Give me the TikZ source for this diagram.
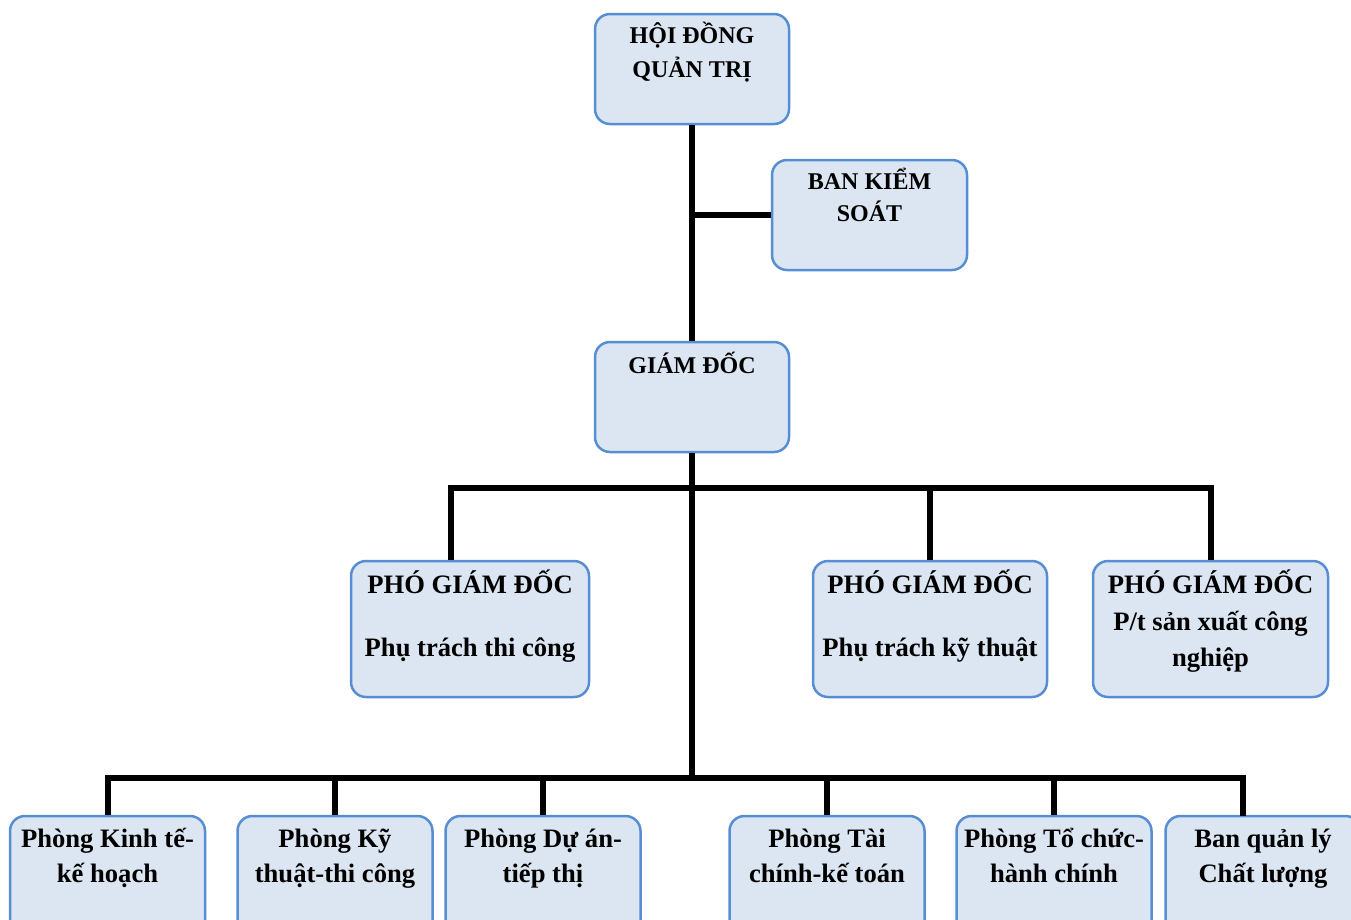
\documentclass[tikz,border=0pt]{standalone}
\usepackage{fontspec}
\setmainfont{Liberation Serif}
\usetikzlibrary{positioning}
\definecolor{boxfill}{RGB}{220,230,242}
\definecolor{boxline}{RGB}{86,141,211}
\newcommand{\toptxt}{\fontsize{24}{34}\selectfont\bfseries}
\newcommand{\midtxt}{\fontsize{26.6}{36.5}\selectfont\bfseries}
\newcommand{\lowtxt}{\fontsize{26.6}{35}\selectfont\bfseries}
% first line strut, so every box text starts at the same baseline
\newcommand{\tstrut}[1]{\rule{0pt}{#1}}
\tikzset{
  orgbox/.style={draw=boxline, fill=boxfill, line width=2.5pt, rounded corners=15pt, inner sep=0pt},
  boxtxt/.style={align=center, inner sep=0pt, anchor=north},
  conn/.style={line width=6pt, line join=miter}
}

\begin{document}
\begin{tikzpicture}[x=1pt, y=-1pt]
    \useasboundingbox (0,0) rectangle (1351,919);

    % Board and control
    \node[orgbox, minimum width=194, minimum height=110] (hdqt) at (692, 69) {};
    \node[boxtxt, font=\toptxt, below=4.6pt of hdqt.north] (hdqt-t) {\tstrut{26.4pt}HỘI ĐỒNG\\QUẢN TRỊ};
    \node[orgbox, minimum width=195, minimum height=110] (bks) at (869.5, 215) {};
    \node[boxtxt, font=\fontsize{24}{32}\selectfont\bfseries, below=4.6pt of bks.north] (bks-t) {\tstrut{26.4pt}BAN KIỂM\\SOÁT};

    % Director
    \node[orgbox, minimum width=194, minimum height=110] (gd) at (692, 397) {};
    \node[boxtxt, font=\toptxt, below=6.6pt of gd.north] (gd-t) {\tstrut{26.4pt}GIÁM ĐỐC};

    % Deputies
    \node[orgbox, minimum width=238, minimum height=136] (pgd1) at (470, 629) {};
    \node[boxtxt, font=\midtxt, below=5.4pt of pgd1.north] (pgd1-t) {\tstrut{28.6pt}PHÓ GIÁM ĐỐC\\[26pt]Phụ trách thi công};
    \node[orgbox, minimum width=234, minimum height=136] (pgd2) at (930, 629) {};
    \node[boxtxt, font=\midtxt, below=5.4pt of pgd2.north] (pgd2-t) {\tstrut{28.6pt}PHÓ GIÁM ĐỐC\\[26pt]Phụ trách kỹ thuật};
    \node[orgbox, minimum width=235, minimum height=136] (pgd3) at (1210.5, 629) {};
    \node[boxtxt, font=\midtxt, below=5.4pt of pgd3.north] (pgd3-t) {\tstrut{28.6pt}PHÓ GIÁM ĐỐC\\P/t sản xuất công\\nghiệp};

    % Departments
    \foreach \x/\nm/\txt in {107.5/p1/{Phòng Kinh tế-\\kế hoạch}, 335/p2/{Phòng Kỹ\\thuật-thi công},
        543/p3/{Phòng Dự án-\\tiếp thị}, 827/p4/{Phòng Tài\\chính-kế toán},
        1054/p5/{Phòng Tổ chức-\\hành chính}, 1263/p6/{Ban quản lý\\Chất lượng}} {
        \node[orgbox, minimum width=195, minimum height=130] (\nm) at (\x, 881) {};
        \node[boxtxt, font=\lowtxt, below=4.4pt of \nm.north] (\nm-t) {\tstrut{28.6pt}\txt};
    }

    % Connections
    \coordinate (bus1) at (451, 488);
    \coordinate (bus2) at (691, 778);
    \coordinate (p6top) at (1243, 816);
    \draw[conn] (hdqt.south) -- (gd.north);
    \draw[conn] (hdqt.south |- bks.west) -- (bks.west);
    \draw[conn] (gd.south) -- (gd.south |- bus2);
    \draw[conn] (pgd1.north -| bus1) -- (bus1) -- (pgd3.north |- bus1) -- (pgd3.north);
    \draw[conn] (pgd2.north) -- (pgd2.north |- bus1);
    \draw[conn] (p1.north) -- (p1.north |- bus2) -- (p6top |- bus2) -- (p6top);
    \foreach \nm in {p2, p3, p4, p5} {
        \draw[conn] (\nm.north) -- (\nm.north |- bus2);
    }
\end{tikzpicture}
\end{document}
